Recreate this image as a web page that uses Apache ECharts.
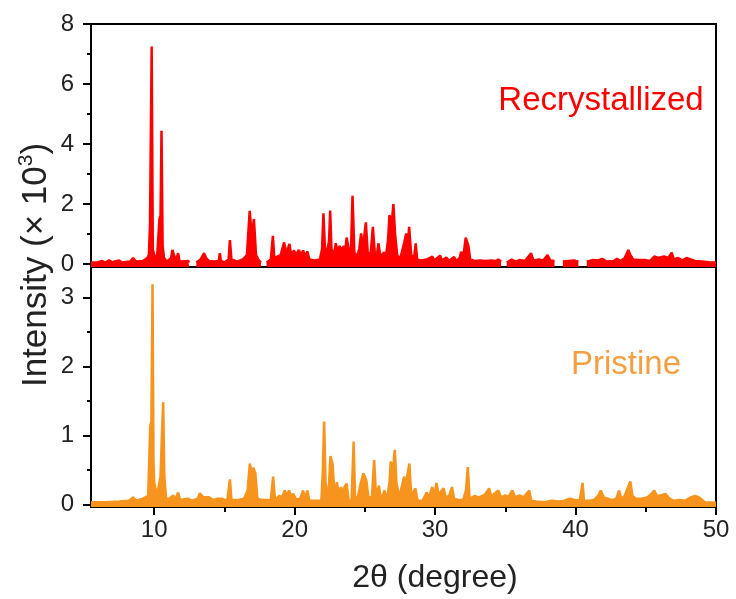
<!DOCTYPE html>
<html>
<head>
<meta charset="utf-8">
<script src="https://cdn.jsdelivr.net/npm/echarts@6/dist/echarts.min.js"></script>
<style>
html,body{margin:0;padding:0;background:#fff;}
#chart{width:736px;height:599px;}
</style>
</head>
<body>
<div id="chart"></div>
<script>
// 2θ range (degree)
const xRange = [5.5, 50];
const xTicks = [10, 20, 30, 40, 50];
const topTicks = [0, 2, 4, 6, 8];
const bottomTicks = [0, 1, 2, 3];

// Recrystallized (×10^3), null = no data
const recX = [5.5,6.0,6.3,6.5,6.8,7.0,7.5,7.7,8.3,8.5,8.7,9.2,9.5,9.62,9.7,9.75,9.82,9.9,10.0,10.2,10.38,10.45,10.52,10.6,10.7,10.9,11.2,11.3,11.4,11.55,11.7,11.8,12.0,12.42,12.5,12.6,13.0,13.3,13.55,13.7,13.9,14.3,14.6,14.67,14.75,15.0,15.3,15.39,15.5,15.9,16.3,16.6,16.8,16.95,17.1,17.25,17.45,17.6,17.7,18.0,18.3,18.45,18.55,18.8,19.0,19.25,19.4,19.63,19.75,19.95,20.1,20.3,20.45,20.6,20.75,20.9,21.05,21.4,21.8,21.95,22.05,22.15,22.3,22.45,22.53,22.62,22.8,22.93,23.05,23.2,23.35,23.5,23.62,23.7,23.85,24.0,24.12,24.25,24.4,24.6,24.73,24.85,25.07,25.2,25.4,25.57,25.7,25.85,25.97,26.1,26.37,26.5,26.65,26.75,26.9,27.03,27.15,27.3,27.5,27.8,27.94,28.05,28.15,28.3,28.5,28.62,28.72,29.0,29.4,29.8,29.95,30.35,30.5,30.8,31.0,31.35,31.5,31.75,31.85,32.0,32.18,32.37,32.5,32.8,33.2,33.6,34.0,34.3,34.5,34.7,34.8,35.1,35.46,35.7,36.0,36.4,36.83,37.0,37.4,37.7,38.0,38.2,38.5,38.7,39.1,39.5,39.9,40.2,40.4,40.8,41.2,41.6,41.9,42.2,42.7,42.95,43.2,43.5,43.76,43.9,44.1,44.5,45.0,45.3,45.6,45.9,46.3,46.6,46.85,47.0,47.3,47.6,47.9,48.2,48.5,49.0,49.5,50.0];
const recY = [0.05,0.06,0.1,0.05,0.12,0.06,0.12,0.05,0.08,0.2,0.08,0.1,0.2,0.3,1.27,1.3,7.25,0.5,0.3,0.2,1.53,1.6,4.44,0.6,0.2,0.08,0.2,0.47,0.3,0.1,0.36,0.1,0.08,0.1,0.05,null,0.05,0.15,0.36,0.2,0.1,0.08,0.1,0.36,0.1,0.05,0.15,0.8,0.15,0.08,0.15,0.3,1.77,0.9,1.5,0.3,0.12,0.05,null,0.05,0.15,0.94,0.2,0.25,0.3,0.72,0.35,0.67,0.3,0.45,0.3,0.47,0.3,0.45,0.25,0.42,0.15,0.12,0.15,0.5,1.69,0.6,0.3,0.8,1.78,0.5,0.3,0.69,0.4,0.6,0.45,0.6,0.5,0.88,0.5,0.3,2.27,0.4,0.2,0.5,1.02,0.5,1.39,0.4,0.3,1.24,0.4,0.3,0.69,0.25,0.39,0.25,0.8,1.63,1.3,2.0,1.0,0.3,0.15,0.71,1.02,0.5,1.24,0.3,0.2,0.69,0.15,0.12,0.15,0.25,0.12,0.28,0.12,0.22,0.1,0.23,0.1,0.2,0.41,0.2,0.88,0.6,0.15,0.1,0.12,0.1,0.12,0.1,0.15,0.08,null,0.05,0.15,0.08,0.13,0.1,0.36,0.12,0.15,0.12,0.3,0.12,0.1,null,0.08,0.1,0.12,0.08,null,0.08,0.13,0.12,0.17,0.08,0.1,0.17,0.1,0.2,0.47,0.3,0.15,0.13,0.13,0.1,0.25,0.2,0.25,0.2,0.38,0.15,0.2,0.12,0.2,0.15,0.1,0.08,0.06,0.05];

// Pristine (×10^3)
const priX = [5.5,6.5,7.5,8.2,8.5,8.7,9.2,9.57,9.72,9.8,9.88,9.95,10.0,10.2,10.45,10.55,10.64,10.72,10.85,11.1,11.35,11.5,11.7,11.85,12.4,12.7,13.1,13.25,13.5,13.9,14.2,14.5,14.8,15.2,15.39,15.5,15.9,16.4,16.65,16.81,16.95,17.05,17.2,17.35,17.7,18.0,18.3,18.47,18.6,18.9,19.1,19.3,19.45,19.6,19.75,19.9,20.1,20.4,20.6,20.75,20.9,21.05,21.5,21.9,22.0,22.1,22.2,22.4,22.55,22.7,22.85,23.0,23.15,23.3,23.45,23.55,23.7,23.85,24.05,24.2,24.3,24.5,24.7,24.9,25.1,25.25,25.5,25.66,25.8,26.0,26.15,26.4,26.55,26.75,26.84,27.0,27.13,27.25,27.45,27.8,27.9,28.0,28.17,28.3,28.6,28.75,29.1,29.4,29.55,29.8,29.95,30.1,30.25,30.4,30.6,30.75,31.0,31.2,31.35,31.7,32.0,32.2,32.33,32.45,32.8,33.1,33.5,33.85,34.0,34.2,34.5,34.7,35.0,35.2,35.5,35.7,36.0,36.3,36.7,36.85,37.2,37.8,38.3,38.8,39.2,39.6,40.0,40.3,40.5,40.6,41.0,41.3,41.6,41.8,42.0,42.3,42.6,42.9,43.1,43.25,43.5,43.7,43.9,44.05,44.3,44.7,45.1,45.4,45.6,45.8,46.1,46.4,46.7,47.0,47.4,47.8,48.2,48.5,48.8,49.2,50.0];
const priY = [0.03,0.03,0.04,0.05,0.1,0.05,0.08,0.12,1.14,1.2,3.19,0.6,0.32,0.12,0.4,1.0,1.48,0.4,0.08,0.08,0.13,0.06,0.17,0.06,0.08,0.05,0.08,0.16,0.1,0.1,0.06,0.08,0.08,0.05,0.36,0.06,0.06,0.08,0.2,0.59,0.45,0.53,0.45,0.08,0.06,0.06,0.06,0.4,0.06,0.12,0.1,0.2,0.12,0.2,0.12,0.15,0.07,0.08,0.2,0.08,0.2,0.05,0.05,0.05,0.45,1.2,0.3,0.1,0.7,0.58,0.1,0.32,0.15,0.25,0.15,0.25,0.3,0.05,0.05,0.91,0.1,0.1,0.3,0.45,0.35,0.1,0.1,0.64,0.1,0.27,0.05,0.2,0.05,0.3,0.62,0.5,0.79,0.3,0.1,0.4,0.2,0.4,0.59,0.12,0.23,0.05,0.05,0.17,0.1,0.25,0.12,0.31,0.12,0.18,0.23,0.1,0.12,0.25,0.08,0.06,0.06,0.2,0.54,0.08,0.12,0.1,0.13,0.23,0.1,0.15,0.2,0.1,0.13,0.1,0.2,0.1,0.13,0.1,0.2,0.05,0.04,0.03,0.05,0.04,0.05,0.08,0.06,0.05,0.31,0.05,0.05,0.06,0.12,0.2,0.1,0.08,0.06,0.08,0.2,0.08,0.12,0.23,0.33,0.12,0.08,0.08,0.1,0.15,0.2,0.12,0.13,0.15,0.08,0.05,0.06,0.05,0.1,0.12,0.1,0.03,0.02];

const toData = (xs, ys) => xs.map((x, i) => [x, ys[i] === null ? '-' : ys[i]]);

const FONT = 'Liberation Sans, Arial, sans-serif';
const RED = '#FF0000';
const ORANGE = '#F7941D';

const L = 91, R = 20;
const tickStyle = {show: true, inside: false, length: 8, lineStyle: {color: '#000', width: 2}};
const minorStyle = {show: true, splitNumber: 2, length: 4, lineStyle: {color: '#000', width: 2}};
const lblStyle = {fontSize: 24, color: '#222', fontFamily: FONT};

const chart = echarts.init(document.getElementById('chart'), null, {renderer: 'canvas'});
chart.setOption({
  animation: false,
  backgroundColor: '#fff',
  grid: [
    {left: L, right: R, top: 24, height: 243, show: true, borderColor: '#000', borderWidth: 2, containLabel: false},
    {left: L, right: R, top: 24, height: 240, containLabel: false},
    {left: L, right: R, top: 267, height: 240, show: true, borderColor: '#000', borderWidth: 2, containLabel: false},
    {left: L, right: R, top: 297.3, height: 207, containLabel: false},
    {left: 154.2, right: R, top: 267, height: 240, containLabel: false}
  ],
  xAxis: [
    {gridIndex: 0, type: 'value', min: xRange[0], max: xRange[1], show: false},
    {gridIndex: 1, type: 'value', min: xRange[0], max: xRange[1], show: false},
    {gridIndex: 2, type: 'value', min: xRange[0], max: xRange[1], show: false},
    {gridIndex: 3, type: 'value', min: xRange[0], max: xRange[1], show: false},
    {gridIndex: 4, type: 'value', min: xTicks[0], max: xTicks[xTicks.length - 1], interval: 10,
     axisLine: {show: false}, axisTick: tickStyle, minorTick: {show: true, splitNumber: 2, length: 5, lineStyle: {color: '#000', width: 2}},
     splitLine: {show: false}, axisLabel: Object.assign({margin: 11}, lblStyle)}
  ],
  yAxis: [
    {gridIndex: 0, type: 'value', min: -0.1, max: 8, show: false},
    {gridIndex: 1, type: 'value', min: topTicks[0], max: topTicks[topTicks.length - 1], interval: 2,
     axisLine: {show: false}, axisTick: tickStyle, minorTick: minorStyle, splitLine: {show: false},
     axisLabel: Object.assign({margin: 17}, lblStyle)},
    {gridIndex: 2, type: 'value', min: -0.04, max: 3.44, show: false},
    {gridIndex: 3, type: 'value', min: bottomTicks[0], max: bottomTicks[bottomTicks.length - 1], interval: 1,
     axisLine: {show: false}, axisTick: tickStyle, minorTick: minorStyle, splitLine: {show: false},
     axisLabel: Object.assign({margin: 17}, lblStyle)},
    {gridIndex: 4, type: 'value', min: 0, max: 1, show: false}
  ],
  series: [
    {name: 'Recrystallized', type: 'line', xAxisIndex: 0, yAxisIndex: 0, data: toData(recX, recY),
     showSymbol: false, lineStyle: {color: RED, width: 2.5}, itemStyle: {color: RED},
     areaStyle: {color: RED, opacity: 1, origin: 'start'}},
    {name: 'Pristine', type: 'line', xAxisIndex: 2, yAxisIndex: 2, data: toData(priX, priY),
     showSymbol: false, lineStyle: {color: ORANGE, width: 2.5}, itemStyle: {color: ORANGE},
     areaStyle: {color: ORANGE, opacity: 1, origin: 'start'}}
  ],
  graphic: [
    {type: 'text', x: 601, y: 101, z: 10,
     style: {text: 'Recrystallized', fill: RED, font: '33px ' + FONT, align: 'center', verticalAlign: 'middle'}},
    {type: 'text', x: 626, y: 365, z: 10,
     style: {text: 'Pristine', fill: '#F4A042', font: '33px ' + FONT, align: 'center', verticalAlign: 'middle'}},
    {type: 'text', x: 35, y: 265, rotation: Math.PI / 2, z: 10,
     style: {text: '{b|Intensity (× 10}{sup|3}{b|)}', align: 'center', verticalAlign: 'middle',
       rich: {
         b: {fontSize: 35, fontFamily: FONT, fill: '#222', lineHeight: 38, verticalAlign: 'bottom'},
         sup: {fontSize: 21, fontFamily: FONT, fill: '#222', lineHeight: 21, verticalAlign: 'top'}
       }}},
    {type: 'text', x: 435, y: 578, z: 10,
     style: {text: '2θ (degree)', fill: '#222', font: '32px ' + FONT, align: 'center', verticalAlign: 'middle'}}
  ]
});
</script>
</body>
</html>
